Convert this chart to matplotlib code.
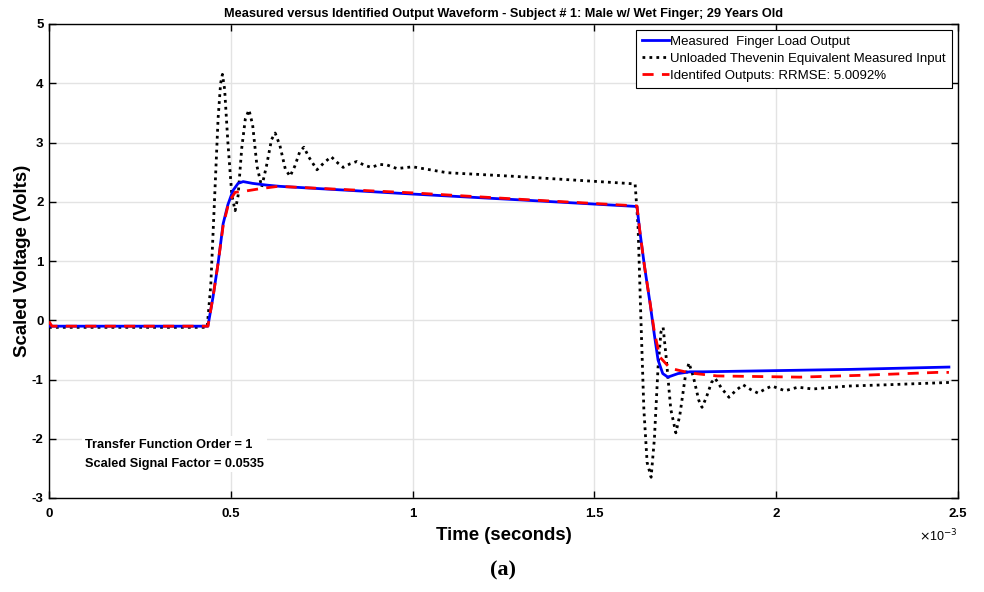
import matplotlib
matplotlib.use("Agg")
import matplotlib.pyplot as plt

# ---- data (time in milliseconds, voltage in volts) ----
t_input = [0.0, 0.435, 0.445, 0.455, 0.465, 0.472, 0.477, 0.483, 0.492, 0.503, 0.512,
           0.520, 0.530, 0.540, 0.550, 0.560, 0.572, 0.585, 0.598, 0.612, 0.622, 0.635,
           0.650, 0.663, 0.676, 0.690, 0.701, 0.715, 0.737, 0.755, 0.776, 0.795, 0.809,
           0.828, 0.847, 0.866, 0.886, 0.910, 0.930, 0.957, 1.000, 1.095, 1.276, 1.460,
           1.590, 1.612, 1.620, 1.628, 1.636, 1.645, 1.656, 1.665, 1.675, 1.683, 1.689,
           1.697, 1.710, 1.724, 1.735, 1.750, 1.760, 1.772, 1.787, 1.796, 1.808, 1.822,
           1.832, 1.850, 1.870, 1.890, 1.909, 1.930, 1.950, 1.970, 1.988, 2.006, 2.024,
           2.060, 2.100, 2.200, 2.300, 2.475]
v_input = [-0.12, -0.12, 0.6, 2.0, 3.4, 4.0, 4.15, 3.9, 3.0, 2.1, 1.85,
           2.1, 2.9, 3.4, 3.55, 3.3, 2.6, 2.25, 2.6, 3.05, 3.16, 2.95,
           2.55, 2.43, 2.6, 2.85, 2.92, 2.75, 2.54, 2.65, 2.76, 2.65, 2.58,
           2.64, 2.68, 2.62, 2.58, 2.63, 2.62, 2.56, 2.59, 2.49, 2.43, 2.36,
           2.31, 2.30, 1.6, 0.0, -1.5, -2.4, -2.65, -2.0, -0.8, -0.2, -0.12,
           -0.6, -1.5, -1.9, -1.6, -0.95, -0.72, -0.95, -1.35, -1.47, -1.3, -1.05,
           -0.98, -1.15, -1.30, -1.18, -1.09, -1.17, -1.23, -1.16, -1.11, -1.15, -1.19,
           -1.13, -1.16, -1.11, -1.09, -1.05]

t_meas = [0.0, 0.437, 0.451, 0.465, 0.479, 0.492, 0.506, 0.520, 0.534, 0.560, 0.600,
          0.635, 1.000, 1.300, 1.617, 1.625, 1.638, 1.653, 1.665, 1.675, 1.688, 1.702,
          1.730, 1.763, 1.800, 2.000, 2.200, 2.475]
v_meas = [-0.10, -0.10, 0.39, 0.96, 1.63, 1.95, 2.19, 2.31, 2.34, 2.31, 2.28,
          2.26, 2.13, 2.03, 1.92, 1.50, 0.90, 0.29, -0.25, -0.67, -0.90, -0.96,
          -0.90, -0.87, -0.87, -0.85, -0.83, -0.79]

t_ident = [0.0, 0.008, 0.437, 0.451, 0.465, 0.479, 0.495, 0.512, 0.540, 0.580, 0.630,
           1.000, 1.300, 1.617, 1.625, 1.638, 1.653, 1.665, 1.680, 1.708, 1.763, 1.837,
           2.065, 2.230, 2.442, 2.475]
v_ident = [-0.02, -0.10, -0.10, 0.39, 0.96, 1.60, 2.00, 2.16, 2.18, 2.22, 2.26,
           2.15, 2.04, 1.93, 1.50, 0.90, 0.30, -0.20, -0.62, -0.81, -0.89, -0.94,
           -0.96, -0.93, -0.88, -0.88]

x_ticks = [0, 0.5, 1, 1.5, 2, 2.5]
x_tick_labels = ["0", "0.5", "1", "1.5", "2", "2.5"]
y_ticks = [-3, -2, -1, 0, 1, 2, 3, 4, 5]

labels = ["Measured  Finger Load Output",
          "Unloaded Thevenin Equivalent Measured Input",
          "Identifed Outputs: RRMSE: 5.0092%"]

plt.rcParams['font.family'] = ['Liberation Sans', 'DejaVu Sans']
plt.rcParams['axes.unicode_minus'] = False

fig = plt.figure(figsize=(9.84, 5.92), dpi=100)
ax = fig.add_axes([49/984, 1 - 498/592, 909/984, 474/592])

ax.plot(t_meas, v_meas, color='#0000ff', lw=2.0, label=labels[0], zorder=3)
ax.plot(t_input, v_input, color='black', lw=2.0, ls=(0, (1, 1.5)), label=labels[1], zorder=2)
ax.plot(t_ident, v_ident, color='#ff0000', lw=2.0, ls=(0, (4, 3)), label=labels[2], zorder=4)

ax.set_xlim(0, 2.5)
ax.set_ylim(-3, 5)
ax.set_xticks(x_ticks)
ax.set_xticklabels(x_tick_labels)
ax.set_yticks(y_ticks)
ax.grid(True, color='#e3e3e3', lw=1.0)
ax.set_axisbelow(True)
ax.tick_params(direction='in', top=True, right=True, length=5, width=1,
               labelsize=9.5)
ax.tick_params(axis='y', pad=4)
ax.tick_params(axis='x', pad=7)
for lab in ax.get_xticklabels() + ax.get_yticklabels():
    lab.set_fontweight('bold')
for sp in ax.spines.values():
    sp.set_linewidth(1.0)

ax.set_title("Measured versus Identified Output Waveform - Subject # 1: Male w/ Wet Finger; 29 Years Old",
             fontsize=9.2, fontweight='bold', pad=5)
ax.set_xlabel("Time (seconds)", fontsize=13.4, fontweight='bold', labelpad=5)
ax.set_ylabel("Scaled Voltage (Volts)", fontsize=13.4, fontweight='bold', labelpad=0.5)

leg = ax.legend(loc='upper right', fontsize=9.5, frameon=True, fancybox=False,
                edgecolor='black', framealpha=1, borderaxespad=0.45,
                handlelength=2.0, handletextpad=0.15, labelspacing=0.35,
                borderpad=0.45)
leg.get_frame().set_linewidth(0.8)

ax.text(0.099, -2.26, "Transfer Function Order = 1\nScaled Signal Factor = 0.0535",
        fontsize=9.2, fontweight='bold', va='center', ha='left', linespacing=1.75,
        bbox=dict(facecolor='white', edgecolor='none', pad=2), zorder=5)

fig.text(958/984, 1 - 536/592, r"$\times$10$^{-3}$", fontsize=9, ha='right', va='center')
fig.text(503/984, 1 - 570/592, "(a)", fontsize=16, fontweight='bold', ha='center', va='center',
         family=['Liberation Serif', 'DejaVu Serif'])

fig.savefig("out.png", dpi=100)
